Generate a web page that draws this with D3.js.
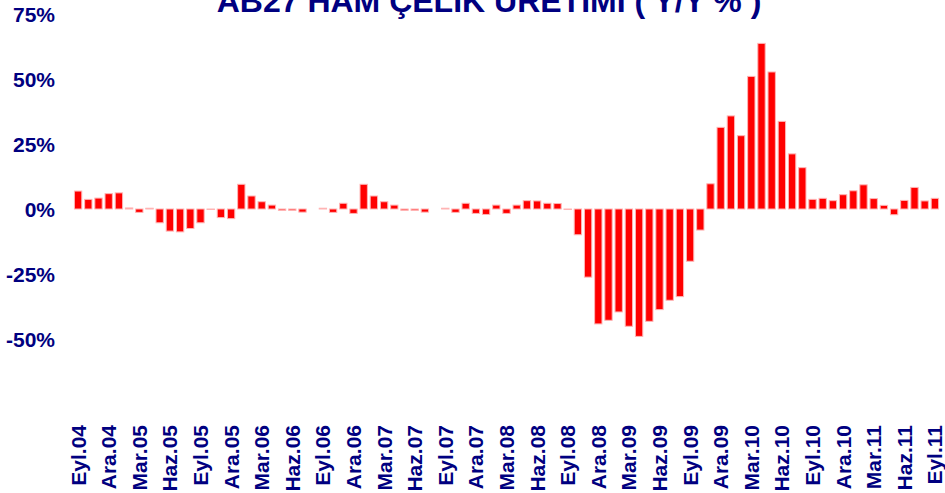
<!DOCTYPE html>
<html>
<head>
<meta charset="utf-8">
<script src="https://cdn.jsdelivr.net/npm/d3@7/dist/d3.min.js"></script>
<style>
  html, body { margin: 0; padding: 0; background: #ffffff; }
  svg { display: block; }
  text { font-family: "Liberation Sans", Arial, sans-serif; font-weight: bold; }
</style>
</head>
<body>
<svg id="chart" width="945" height="493"></svg>
<script>
const title = "AB27 HAM ÇELİK ÜRETİMİ ( Y/Y % )";

const categories = [
  "Eyl.04","Eki.04","Kas.04","Ara.04",
  "Oca.05","Şub.05","Mar.05","Nis.05","May.05","Haz.05","Tem.05","Ağu.05","Eyl.05","Eki.05","Kas.05","Ara.05",
  "Oca.06","Şub.06","Mar.06","Nis.06","May.06","Haz.06","Tem.06","Ağu.06","Eyl.06","Eki.06","Kas.06","Ara.06",
  "Oca.07","Şub.07","Mar.07","Nis.07","May.07","Haz.07","Tem.07","Ağu.07","Eyl.07","Eki.07","Kas.07","Ara.07",
  "Oca.08","Şub.08","Mar.08","Nis.08","May.08","Haz.08","Tem.08","Ağu.08","Eyl.08","Eki.08","Kas.08","Ara.08",
  "Oca.09","Şub.09","Mar.09","Nis.09","May.09","Haz.09","Tem.09","Ağu.09","Eyl.09","Eki.09","Kas.09","Ara.09",
  "Oca.10","Şub.10","Mar.10","Nis.10","May.10","Haz.10","Tem.10","Ağu.10","Eyl.10","Eki.10","Kas.10","Ara.10",
  "Oca.11","Şub.11","Mar.11","Nis.11","May.11","Haz.11","Tem.11","Ağu.11","Eyl.11"
];

const values = [
  6.9, 3.7, 4.2, 5.9,
  6.2, 0.4, -1.3, 0.3, -5.3, -8.5, -8.8, -7.5, -5.3, -0.2, -3.3, -3.7,
  9.5, 5.0, 2.8, 1.5, -0.5, -0.5, -1.2, 0, 0.3, -1.3, 2.2, -1.7,
  9.5, 5.0, 2.8, 1.5, -0.5, -0.5, -1.2, 0, 0.3, -1.3, 2.2, -1.7,
  -2.1, 1.5, -1.7, 1.5, 3.2, 3.1, 2.2, 2.1, -0.2, -9.9, -26.2, -44.2,
  -42.8, -39.6, -45.1, -49.0, -43.2, -38.7, -35.1, -33.7, -20.1, -8.1, 9.7, 31.4,
  35.8, 28.2, 51.0, 63.7, 52.7, 33.7, 21.2, 15.9, 3.7, 4.1, 3.2, 5.5,
  7.0, 9.3, 4.0, 1.4, -2.2, 3.3, 8.3, 3.1, 4.1
];

const yTicks = [75, 50, 25, 0, -25, -50];
const xTickLabels = categories.filter((d, i) => i % 3 === 0);

const svg = d3.select("#chart");
const navy = "#000080";

const pi = 0.28;
const x = d3.scaleBand().domain(categories).range([73, 940]).paddingInner(pi).paddingOuter(pi / 2);
const y = d3.scaleLinear().domain([-75, 75]).range([404, 14]);

// title
svg.append("text")
  .attr("x", 489).attr("y", 12)
  .attr("text-anchor", "middle")
  .attr("font-size", 32)
  .attr("fill", navy)
  .text(title);

// bars
svg.append("g").selectAll("rect")
  .data(values)
  .join("rect")
  .attr("x", (d, i) => x(categories[i]))
  .attr("width", x.bandwidth())
  .attr("y", d => y(Math.max(0, d)))
  .attr("height", d => Math.abs(y(d) - y(0)))
  .attr("fill", "#ff0000")
  .attr("stroke", d => d === 0 ? "none" : "#ffb4b4")
  .attr("stroke-width", 1);

// y axis labels
const yAxis = d3.axisLeft(y).tickValues(yTicks).tickFormat(d => d + "%").tickSize(0).tickPadding(0);
const gy = svg.append("g").attr("transform", "translate(55,0)").call(yAxis);
gy.select(".domain").remove();
gy.selectAll("text")
  .attr("font-size", 21)
  .attr("font-family", "'Liberation Sans', Arial, sans-serif")
  .attr("font-weight", "bold")
  .attr("fill", navy)
  .attr("dy", "0.36em");

// x axis labels
const xAxis = d3.axisBottom(x).tickValues(xTickLabels).tickSize(0).tickPadding(0);
const gx = svg.append("g").attr("transform", "translate(0,425)").call(xAxis);
gx.select(".domain").remove();
gx.selectAll("text")
  .attr("font-size", 21)
  .attr("font-family", "'Liberation Sans', Arial, sans-serif")
  .attr("font-weight", "bold")
  .attr("fill", navy)
  .attr("text-anchor", "end")
  .attr("transform", "rotate(-90)")
  .attr("x", 0)
  .attr("y", 0)
  .attr("dy", "0.36em");
</script>
</body>
</html>
